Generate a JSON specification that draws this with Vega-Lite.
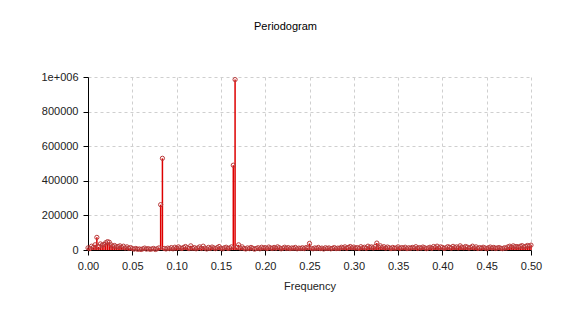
{
  "$schema": "https://vega.github.io/schema/vega-lite/v6.json",
  "autosize": {"type": "none"},
  "width": 443,
  "height": 173,
  "padding": {"left": 88, "top": 77, "right": 37, "bottom": 79},
  "background": "white",
  "title": {"text": "Periodogram", "font": "Liberation Sans", "fontSize": 11, "fontWeight": "normal", "color": "#000", "offset": 39, "dx": -24, "anchor": "middle"},
  "config": {"view": {"stroke": null}},
  "data": {"values": [
{"f":0.000,"p":12000},{"f":0.002,"p":8000},{"f":0.004,"p":22000},{"f":0.006,"p":15000},{"f":0.008,"p":30000},{"f":0.010,"p":73000},{"f":0.012,"p":18000},{"f":0.014,"p":35000},{"f":0.016,"p":28000},{"f":0.018,"p":32000},
{"f":0.020,"p":42000},{"f":0.022,"p":48000},{"f":0.024,"p":45000},{"f":0.026,"p":30000},{"f":0.028,"p":22000},{"f":0.030,"p":26000},{"f":0.032,"p":18000},{"f":0.034,"p":20000},{"f":0.036,"p":24000},{"f":0.038,"p":15000},
{"f":0.040,"p":22000},{"f":0.042,"p":12000},{"f":0.044,"p":18000},{"f":0.046,"p":10000},{"f":0.048,"p":14000},{"f":0.050,"p":8000},{"f":0.052,"p":5000},{"f":0.054,"p":9000},{"f":0.056,"p":4000},{"f":0.058,"p":6000},
{"f":0.060,"p":3000},{"f":0.062,"p":7000},{"f":0.064,"p":11000},{"f":0.066,"p":5000},{"f":0.068,"p":8000},{"f":0.070,"p":4000},{"f":0.072,"p":6000},{"f":0.074,"p":9000},{"f":0.076,"p":3000},{"f":0.078,"p":7000},
{"f":0.080,"p":12000},{"f":0.082,"p":262000},{"f":0.084,"p":530000},{"f":0.086,"p":9000},{"f":0.088,"p":6000},{"f":0.090,"p":11000},{"f":0.092,"p":8000},{"f":0.094,"p":14000},{"f":0.096,"p":7000},{"f":0.098,"p":16000},
{"f":0.100,"p":10000},{"f":0.102,"p":18000},{"f":0.104,"p":12000},{"f":0.106,"p":9000},{"f":0.108,"p":15000},{"f":0.110,"p":20000},{"f":0.112,"p":13000},{"f":0.114,"p":8000},{"f":0.116,"p":24000},{"f":0.118,"p":10000},
{"f":0.120,"p":14000},{"f":0.122,"p":7000},{"f":0.124,"p":12000},{"f":0.126,"p":18000},{"f":0.128,"p":9000},{"f":0.130,"p":22000},{"f":0.132,"p":11000},{"f":0.134,"p":6000},{"f":0.136,"p":15000},{"f":0.138,"p":9000},
{"f":0.140,"p":17000},{"f":0.142,"p":12000},{"f":0.144,"p":8000},{"f":0.146,"p":14000},{"f":0.148,"p":20000},{"f":0.150,"p":10000},{"f":0.152,"p":7000},{"f":0.154,"p":13000},{"f":0.156,"p":16000},{"f":0.158,"p":9000},
{"f":0.160,"p":12000},{"f":0.162,"p":18000},{"f":0.164,"p":490000},{"f":0.166,"p":985000},{"f":0.168,"p":14000},{"f":0.170,"p":30000},{"f":0.172,"p":11000},{"f":0.174,"p":18000},{"f":0.176,"p":9000},{"f":0.178,"p":6000},
{"f":0.180,"p":12000},{"f":0.182,"p":8000},{"f":0.184,"p":15000},{"f":0.186,"p":10000},{"f":0.188,"p":5000},{"f":0.190,"p":9000},{"f":0.192,"p":13000},{"f":0.194,"p":7000},{"f":0.196,"p":16000},{"f":0.198,"p":11000},
{"f":0.200,"p":14000},{"f":0.202,"p":8000},{"f":0.204,"p":17000},{"f":0.206,"p":12000},{"f":0.208,"p":9000},{"f":0.210,"p":15000},{"f":0.212,"p":10000},{"f":0.214,"p":18000},{"f":0.216,"p":13000},{"f":0.218,"p":7000},
{"f":0.220,"p":11000},{"f":0.222,"p":16000},{"f":0.224,"p":9000},{"f":0.226,"p":14000},{"f":0.228,"p":8000},{"f":0.230,"p":12000},{"f":0.232,"p":10000},{"f":0.234,"p":15000},{"f":0.236,"p":7000},{"f":0.238,"p":11000},
{"f":0.240,"p":9000},{"f":0.242,"p":13000},{"f":0.244,"p":8000},{"f":0.246,"p":14000},{"f":0.248,"p":12000},{"f":0.250,"p":38000},{"f":0.252,"p":10000},{"f":0.254,"p":7000},{"f":0.256,"p":12000},{"f":0.258,"p":9000},
{"f":0.260,"p":15000},{"f":0.262,"p":8000},{"f":0.264,"p":11000},{"f":0.266,"p":6000},{"f":0.268,"p":13000},{"f":0.270,"p":9000},{"f":0.272,"p":12000},{"f":0.274,"p":7000},{"f":0.276,"p":10000},{"f":0.278,"p":14000},
{"f":0.280,"p":8000},{"f":0.282,"p":11000},{"f":0.284,"p":9000},{"f":0.286,"p":16000},{"f":0.288,"p":12000},{"f":0.290,"p":18000},{"f":0.292,"p":10000},{"f":0.294,"p":15000},{"f":0.296,"p":20000},{"f":0.298,"p":13000},
{"f":0.300,"p":17000},{"f":0.302,"p":11000},{"f":0.304,"p":14000},{"f":0.306,"p":9000},{"f":0.308,"p":19000},{"f":0.310,"p":12000},{"f":0.312,"p":16000},{"f":0.314,"p":10000},{"f":0.316,"p":22000},{"f":0.318,"p":15000},
{"f":0.320,"p":18000},{"f":0.322,"p":12000},{"f":0.324,"p":20000},{"f":0.326,"p":40000},{"f":0.328,"p":16000},{"f":0.330,"p":24000},{"f":0.332,"p":14000},{"f":0.334,"p":19000},{"f":0.336,"p":11000},{"f":0.338,"p":17000},
{"f":0.340,"p":13000},{"f":0.342,"p":8000},{"f":0.344,"p":15000},{"f":0.346,"p":10000},{"f":0.348,"p":12000},{"f":0.350,"p":18000},{"f":0.352,"p":9000},{"f":0.354,"p":14000},{"f":0.356,"p":11000},{"f":0.358,"p":16000},
{"f":0.360,"p":8000},{"f":0.362,"p":13000},{"f":0.364,"p":10000},{"f":0.366,"p":15000},{"f":0.368,"p":12000},{"f":0.370,"p":19000},{"f":0.372,"p":9000},{"f":0.374,"p":14000},{"f":0.376,"p":11000},{"f":0.378,"p":17000},
{"f":0.380,"p":13000},{"f":0.382,"p":8000},{"f":0.384,"p":12000},{"f":0.386,"p":16000},{"f":0.388,"p":10000},{"f":0.390,"p":20000},{"f":0.392,"p":14000},{"f":0.394,"p":22000},{"f":0.396,"p":12000},{"f":0.398,"p":18000},
{"f":0.400,"p":15000},{"f":0.402,"p":9000},{"f":0.404,"p":13000},{"f":0.406,"p":19000},{"f":0.408,"p":16000},{"f":0.410,"p":11000},{"f":0.412,"p":21000},{"f":0.414,"p":14000},{"f":0.416,"p":18000},{"f":0.418,"p":12000},
{"f":0.420,"p":24000},{"f":0.422,"p":16000},{"f":0.424,"p":13000},{"f":0.426,"p":20000},{"f":0.428,"p":17000},{"f":0.430,"p":11000},{"f":0.432,"p":15000},{"f":0.434,"p":22000},{"f":0.436,"p":12000},{"f":0.438,"p":18000},
{"f":0.440,"p":9000},{"f":0.442,"p":14000},{"f":0.444,"p":10000},{"f":0.446,"p":16000},{"f":0.448,"p":12000},{"f":0.450,"p":8000},{"f":0.452,"p":13000},{"f":0.454,"p":17000},{"f":0.456,"p":11000},{"f":0.458,"p":15000},
{"f":0.460,"p":9000},{"f":0.462,"p":12000},{"f":0.464,"p":14000},{"f":0.466,"p":10000},{"f":0.468,"p":8000},{"f":0.470,"p":13000},{"f":0.472,"p":11000},{"f":0.474,"p":18000},{"f":0.476,"p":22000},{"f":0.478,"p":15000},
{"f":0.480,"p":24000},{"f":0.482,"p":19000},{"f":0.484,"p":20000},{"f":0.486,"p":16000},{"f":0.488,"p":22000},{"f":0.490,"p":25000},{"f":0.492,"p":18000},{"f":0.494,"p":21000},{"f":0.496,"p":26000},{"f":0.498,"p":23000},
{"f":0.500,"p":28000}
  ]},
  "encoding": {
    "x": {"field": "f", "type": "quantitative", "title": "Frequency",
      "scale": {"domain": [0, 0.5], "nice": false, "zero": false},
      "axis": {"values": [0,0.05,0.1,0.15,0.2,0.25,0.3,0.35,0.4,0.45,0.5], "format": ".2f", "labelFlush": false,
        "grid": true, "gridColor": "#cfcfcf", "gridDash": [3,3], "gridWidth": 1,
        "domainColor": "#000", "tickColor": "#000", "tickSize": 5,
        "labelFont": "Liberation Sans", "labelFontSize": 11, "labelColor": "#222", "labelPadding": 5,
        "titleFont": "Liberation Sans", "titleFontSize": 11, "titleFontWeight": "normal", "titleColor": "#222", "titlePadding": 9}},
    "y": {"field": "p", "type": "quantitative", "title": null,
      "scale": {"domain": [0, 1000000], "nice": false},
      "axis": {"values": [0,200000,400000,600000,800000,1000000], "labelFlush": false,
        "labelExpr": "datum.value == 1000000 ? '1e+006' : format(datum.value, 'd')",
        "grid": true, "gridColor": "#cfcfcf", "gridDash": [3,3], "gridWidth": 1,
        "domainColor": "#000", "tickColor": "#000", "tickSize": 5,
        "labelFont": "Liberation Sans", "labelFontSize": 11, "labelColor": "#222", "labelPadding": 5}}
  },
  "layer": [
    {"mark": {"type": "rule", "color": "#dd0000", "strokeWidth": 1.5},
     "encoding": {"y2": {"datum": 0}}},
    {"mark": {"type": "point", "filled": false, "shape": "circle", "size": 18, "stroke": "#b83a3a", "strokeWidth": 1, "opacity": 1}}
  ]
}
